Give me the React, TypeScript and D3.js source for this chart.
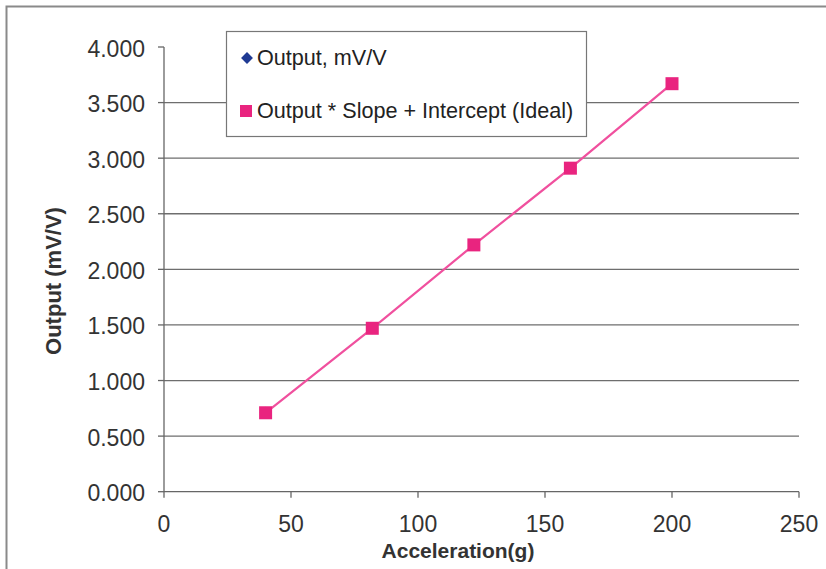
import * as d3 from 'd3';

const acceleration = [40, 82, 122, 160, 200];
const outputMvV = [0.71, 1.47, 2.22, 2.91, 3.67];
const idealOutput = [0.71, 1.47, 2.22, 2.91, 3.67];
const xTicks = [0, 50, 100, 150, 200, 250];
const yTicks = [0, 0.5, 1, 1.5, 2, 2.5, 3, 3.5, 4];
const seriesNames = ['Output, mV/V', 'Output * Slope + Intercept (Ideal)'];

const FONT = "Arial, 'Liberation Sans', sans-serif";

export default function App() {
  const width = 826;
  const height = 569;
  const plot = { left: 164, right: 799, top: 47, bottom: 491.7 };

  const x = d3.scaleLinear().domain([0, 250]).range([plot.left, plot.right]);
  const y = d3.scaleLinear().domain([0, 4]).range([plot.bottom, plot.top]);

  const idealPoints = acceleration.map((a, i) => [x(a), y(idealOutput[i])] as [number, number]);
  const line = d3.line();
  const diamond = d3.symbol().type(d3.symbolDiamond2).size(90);

  return (
    <svg
      width={width}
      height={height}
      style={{ position: 'absolute', left: 0, top: 0, background: '#fff' }}
    >
      {/* chart frame */}
      <rect x={6.5} y={6.5} width={840} height={600} fill="#fff" stroke="#8a8a8a" strokeWidth={2} />

      {/* gridlines */}
      {yTicks.slice(1, -1).map((t) => (
        <line key={t} x1={plot.left} x2={plot.right} y1={y(t)} y2={y(t)} stroke="#6e6e6e" strokeWidth={1.3} />
      ))}

      {/* y axis */}
      <line x1={plot.left} x2={plot.left} y1={y(4)} y2={y(0)} stroke="#666" strokeWidth={1.3} />
      {yTicks.map((t) => (
        <g key={t}>
          <line x1={plot.left - 6} x2={plot.left} y1={y(t)} y2={y(t)} stroke="#666" strokeWidth={1.3} />
          <text
            x={145}
            y={y(t) + 9.5}
            textAnchor="end"
            fontFamily={FONT}
            fontSize={23}
            fill="#333"
          >
            {d3.format('.3f')(t)}
          </text>
        </g>
      ))}

      {/* x axis */}
      <line x1={plot.left} x2={plot.right} y1={y(0)} y2={y(0)} stroke="#666" strokeWidth={1.3} />
      {xTicks.map((t) => (
        <g key={t}>
          <line x1={x(t)} x2={x(t)} y1={y(0)} y2={y(0) + 6} stroke="#666" strokeWidth={1.3} />
          <text x={x(t)} y={531.5} textAnchor="middle" fontFamily={FONT} fontSize={23} fill="#333">
            {t}
          </text>
        </g>
      ))}

      {/* axis titles */}
      <text x={458} y={558} textAnchor="middle" fontFamily={FONT} fontSize={21} fontWeight="bold" fill="#333">
        Acceleration(g)
      </text>
      <text
        transform="translate(61,281) rotate(-90)"
        textAnchor="middle"
        fontFamily={FONT}
        fontSize={22}
        fontWeight="bold"
        fill="#333"
      >
        Output (mV/V)
      </text>

      {/* Output series (hidden under ideal markers) */}
      {acceleration.map((a, i) => (
        <path key={'d' + i} d={diamond() ?? ''} transform={`translate(${x(a)},${y(outputMvV[i])})`} fill="#1f3a93" />
      ))}

      {/* ideal line + markers */}
      <path d={line(idealPoints) ?? ''} fill="none" stroke="#f0509e" strokeWidth={2.2} />
      {idealPoints.map(([px, py], i) => (
        <rect key={'s' + i} x={px - 6.5} y={py - 6.5} width={13} height={13} fill="#e9247f" />
      ))}

      {/* legend */}
      <rect x={226.5} y={31.5} width={360} height={105} fill="#fff" stroke="#777" strokeWidth={1.2} />
      <path d={diamond() ?? ''} transform="translate(247,58)" fill="#1f3a93" />
      <text x={257} y={65} fontFamily={FONT} fontSize={21.6} fill="#222">
        {seriesNames[0]}
      </text>
      <rect x={240} y={105} width={12} height={12} fill="#e9247f" />
      <text x={257} y={118} fontFamily={FONT} fontSize={21.6} fill="#222">
        {seriesNames[1]}
      </text>
    </svg>
  );
}
